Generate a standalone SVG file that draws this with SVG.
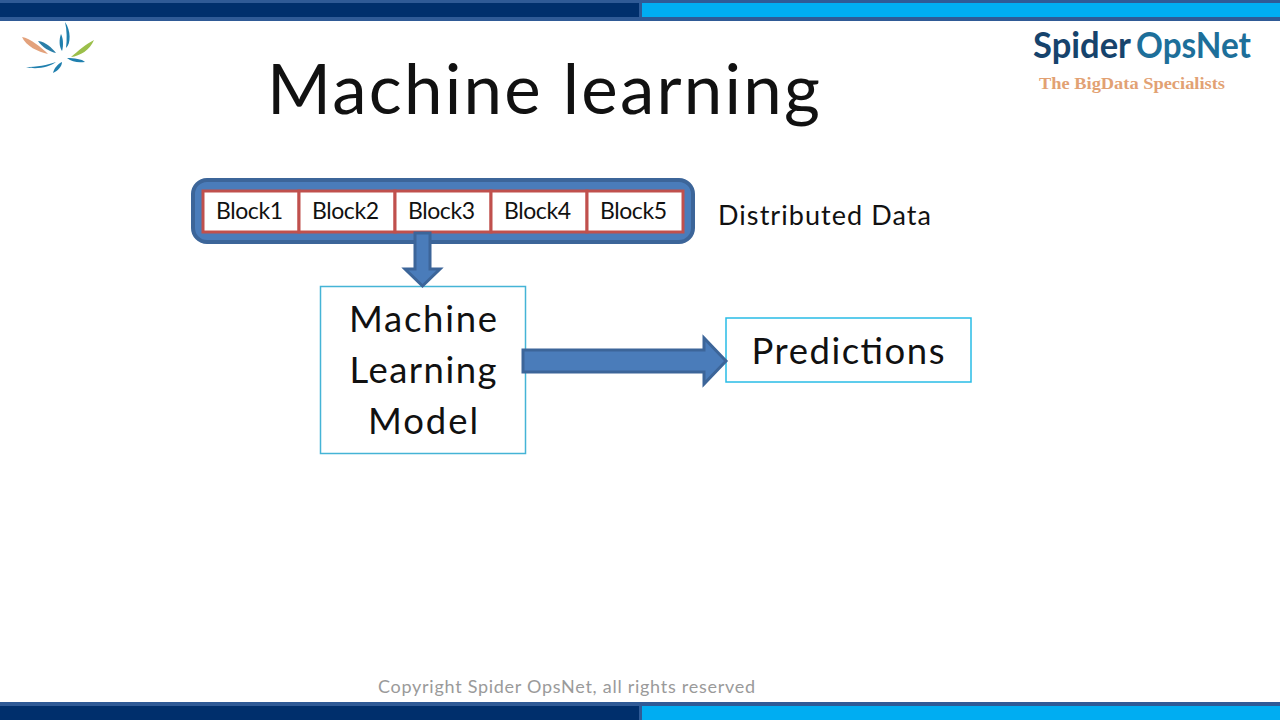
<svg xmlns="http://www.w3.org/2000/svg" width="1280" height="720" viewBox="0 0 1280 720">
<style>
text{font-family:Lato,"Open Sans","Liberation Sans",sans-serif;fill:#111}
.block{fill:#fff;stroke:#c0504d;stroke-width:3}
.box{fill:#fff;stroke:#45b4d6;stroke-width:1.500}
.box2{fill:#fff;stroke:#29bce6;stroke-width:1.500}
.arrow{fill:#4a7cba;stroke:#3c6599;stroke-width:3}
.bl{font-size:23px;text-anchor:middle}
.big{font-size:36.500px;text-anchor:middle}
</style>
<rect width="1280" height="720" fill="#fff"/>
<g id="bars">
<rect x="0" y="0" width="1280" height="21" fill="#2f5a96"/>
<rect x="0" y="3" width="639" height="14" fill="#002f6c"/>
<rect x="642" y="3" width="638" height="14" fill="#00adf2"/>
<rect x="0" y="702" width="1280" height="18" fill="#2f5a96"/>
<rect x="0" y="706" width="639" height="14" fill="#002f6c"/>
<rect x="642" y="706" width="638" height="14" fill="#00adf2"/>
</g>
<g id="logo-mark">
<path d="M65 22C71 30 71 44 66 48C67 40 67 30 65 22Z" fill="#1f7fae"/>
<path d="M61 34C64 40 63 48 62 51C59 47 59 39 61 34Z" fill="#1f7fae"/>
<path d="M22 37C30 38 42 48 48 54C38 52 26 46 22 37Z" fill="#e3a27c"/>
<path d="M38 41C46 42 52 48 56 53C50 52 42 47 38 41Z" fill="#2a7ea8"/>
<path d="M94 40C90 50 80 56 71 57C78 51 86 44 94 40Z" fill="#9bbf4a"/>
<path d="M67 58C74 58 82 59 85 62C78 63 72 62 67 58Z" fill="#1f7fae"/>
<path d="M26 67C36 67 48 65 56 62C50 67 36 70 26 67Z" fill="#1f7fae"/>
<path d="M62 62C62 66 58 71 53 73C54 68 58 64 62 62Z" fill="#1f7fae"/>
</g>
<g id="brand">
<text x="1033" y="58" font-size="37" font-weight="700" textLength="98" lengthAdjust="spacingAndGlyphs" style="fill:#16436c">Spider</text>
<text x="1136" y="58" font-size="37" font-weight="700" textLength="115" lengthAdjust="spacingAndGlyphs" style="fill:#1d6f9a">OpsNet</text>
<text x="1039" y="89" font-size="17" font-weight="700" textLength="186" lengthAdjust="spacingAndGlyphs" style="font-family:'Liberation Serif',serif;fill:#e2a173">The BigData Specialists</text>
</g>
<text id="title" x="267" y="114" font-size="69" textLength="553" lengthAdjust="spacing">Machine learning</text>
<g id="distributed-data">
<rect x="193" y="180" width="500" height="62" rx="14" fill="#4a7cba" stroke="#3c6599" stroke-width="4"/>
</g>
<g id="block1"><rect class="block" x="203" y="191" width="96" height="41"/><text class="bl" x="249.500" y="219" textLength="67">Block1</text></g>
<g id="block2"><rect class="block" x="299" y="191" width="96" height="41"/><text class="bl" x="345.500" y="219" textLength="67">Block2</text></g>
<g id="block3"><rect class="block" x="395" y="191" width="96" height="41"/><text class="bl" x="441.500" y="219" textLength="67">Block3</text></g>
<g id="block4"><rect class="block" x="491" y="191" width="96" height="41"/><text class="bl" x="537.500" y="219" textLength="67">Block4</text></g>
<g id="block5"><rect class="block" x="587" y="191" width="96" height="41"/><text class="bl" x="633.500" y="219" textLength="67">Block5</text></g>
<text id="distributed-label" x="718" y="225" font-size="27" textLength="213" lengthAdjust="spacing">Distributed Data</text>
<g id="model"><rect class="box" x="320.500" y="286.500" width="205" height="167"/>
<text class="big" x="423" y="332" textLength="148">Machine</text><text class="big" x="423" y="383" textLength="147">Learning</text><text class="big" x="423" y="434" textLength="110">Model</text></g>
<g id="predictions"><rect class="box2" x="726" y="318" width="245" height="64"/>
<text class="big" x="848" y="364" textLength="193">Predictions</text></g>
<g id="connectors">
<path class="arrow" d="M415 233H430V269H440L422.500 286L405 269H415Z"/>
<path class="arrow" d="M523 350H704V338L726 361L704 384V372H523Z"/>
</g>
<text id="copyright" x="378" y="693" font-size="18" textLength="377" lengthAdjust="spacing" style="fill:#9a9a9a">Copyright Spider OpsNet, all rights reserved</text>
</svg>
